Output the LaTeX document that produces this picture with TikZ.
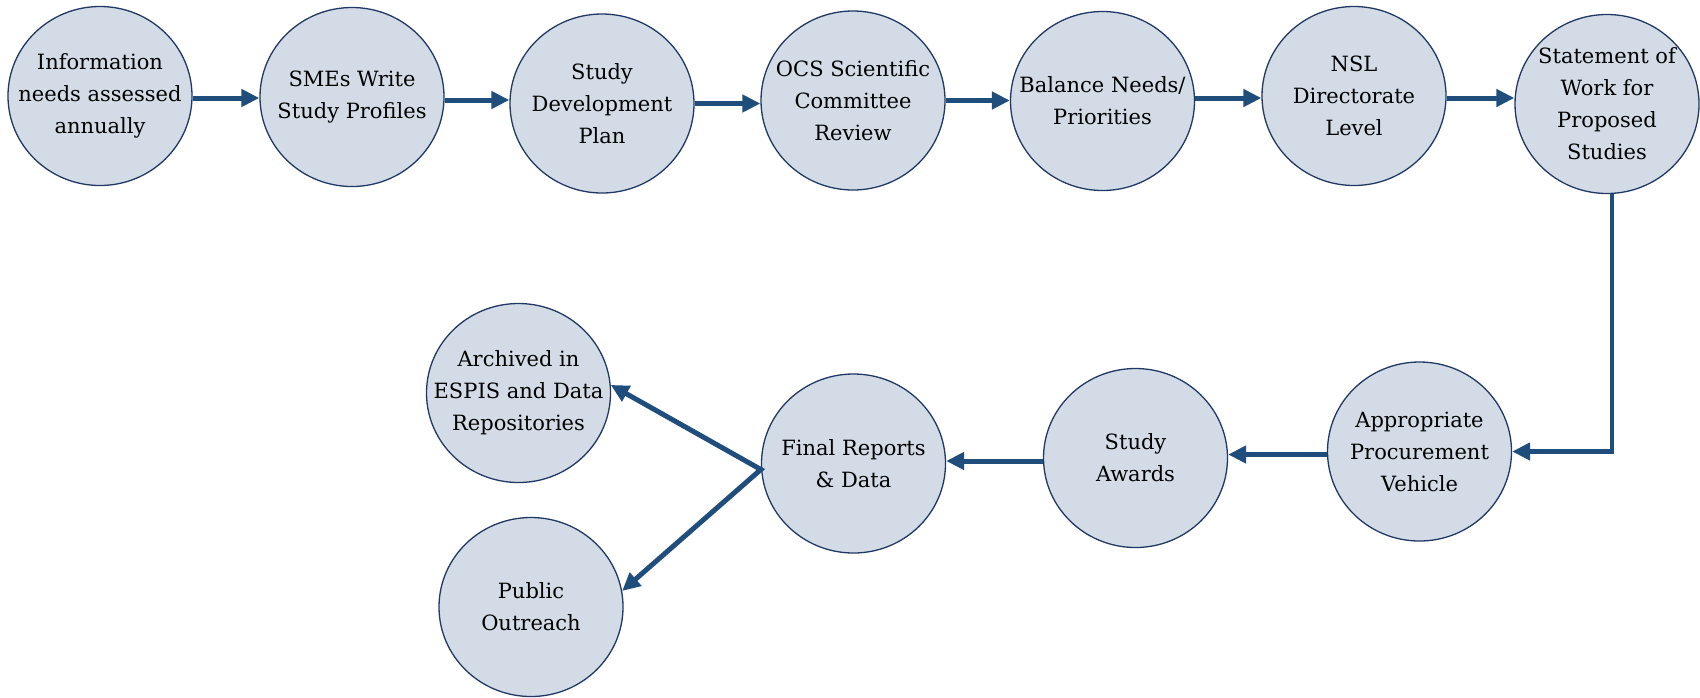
\documentclass[tikz,border=0pt]{standalone}
\usepackage{fontspec}
\setmainfont{DejaVu Serif}
\usetikzlibrary{shapes.geometric,arrows.meta}
\definecolor{fillc}{RGB}{211,220,230}
\definecolor{edgec}{RGB}{32,56,100}
\definecolor{arrc}{RGB}{31,78,125}
\tikzset{
  stage/.style={ellipse, draw=edgec, line width=1.3pt, fill=fillc,
    minimum width=184pt, minimum height=179pt, inner sep=0pt},
  txt/.style={align=center, inner sep=0pt, text=black,
    font=\fontsize{21}{32}\selectfont},
  arr/.style={draw=arrc, line width=5pt,
    -{Triangle[length=18pt,width=17pt]}},
  dblarr/.style={draw=arrc, line width=5pt, line join=miter,
    {Triangle[length=18pt,width=17pt]}-{Triangle[length=18pt,width=17pt]}},
  elbow/.style={draw=arrc, line width=4.7pt, line join=miter,
    -{Triangle[length=18pt,width=17pt]}}
}
\begin{document}
\begin{tikzpicture}[x=1pt,y=-1pt]
\useasboundingbox[fill=white] (0,0) rectangle (1700,697);
\node[stage, label={[txt]center:Information\\needs assessed\\annually}] (n1) at (100,96) {};
\node[stage, label={[txt]center:SMEs Write\\Study Profiles}] (n2) at (352,97) {};
\node[stage, label={[txt]center:Study\\Development\\Plan}] (n3) at (602,103.5) {};
\node[stage, label={[txt]center:OCS Scientific\\Committee\\Review}] (n4) at (853,100.5) {};
\node[stage, label={[txt]center:Balance Needs/\\Priorities}] (n5) at (1102.5,101) {};
\node[stage, label={[txt]center:NSL\\Directorate\\Level}] (n6) at (1354,96) {};
\node[stage, label={[txt]center:Statement of\\Work for\\Proposed\\Studies}] (n7) at (1607,104) {};
\node[stage, label={[txt]center:Appropriate\\Procurement\\Vehicle}] (n8) at (1419.5,451.5) {};
\node[stage, label={[txt]center:Study\\Awards}] (n9) at (1135.5,458) {};
\node[stage, label={[txt]center:Final Reports\\\& Data}] (n10) at (853.5,463.5) {};
\node[stage, label={[txt]center:Archived in\\ESPIS and Data\\Repositories}] (n11) at (518.5,393) {};
\node[stage, label={[txt]center:Public\\Outreach}] (n12) at (531,607) {};

\draw[arr] ([yshift=-2pt]n1.east) -- ([yshift=-2pt]n1.east -| n2.west);
\draw[arr] ([yshift=-3pt]n2.east) -- ([yshift=-3pt]n2.east -| n3.west);
\draw[arr] (n3.east) -- (n3.east -| n4.west);
\draw[arr] (n4.east) -- (n4.east -| n5.west);
\draw[arr] ([yshift=3pt]n5.east) -- ([yshift=3pt]n5.east -| n6.west);
\draw[arr] ([yshift=-2pt]n6.east) -- ([yshift=-2pt]n6.east -| n7.west);
\draw[elbow] ([xshift=5pt]n7.south) |- (n8.east);
\draw[arr] ([yshift=-3pt]n8.west) -- ([yshift=-3pt]n8.west -| n9.east);
\draw[arr] ([yshift=-3pt]n9.west) -- ([yshift=-3pt]n9.west -| n10.east);
\coordinate (fork) at ([yshift=-6pt]n10.west);
\draw[dblarr] (n11.5) -- (fork) -- (n12.10);
\end{tikzpicture}
\end{document}
